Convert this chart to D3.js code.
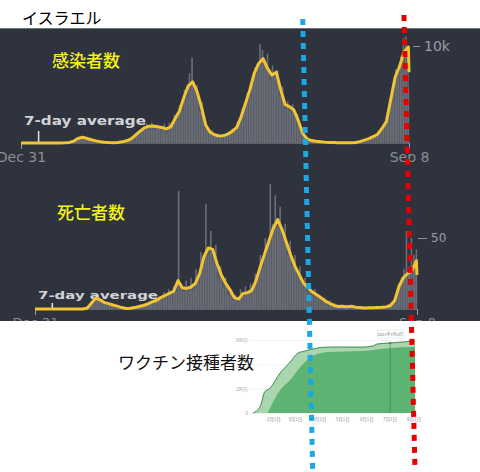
<!DOCTYPE html>
<html>
<head>
<meta charset="utf-8">
<script src="https://cdn.jsdelivr.net/npm/d3@7"></script>
<style>
body { margin: 0; background: #fff; }
svg { display: block; }
</style>
</head>
<body>
<div id="chart"></div>
<script>
// Israel: daily cases / deaths (Dec 31 2019 - Sep 8 2021) and vaccinations
const startDate = new Date(2019, 11, 31),
    endDate = new Date(2021, 8, 8);

// 7-day averages, one value per week from Dec 31, last one on Sep 8
const caseAvg = [
    0, 0, 0, 0, 0, 0, 0, 0, 0,
    2, 15, 60, 200, 480, 600, 460, 330, 220, 140, 80,
    40, 30, 60, 120, 230, 420, 800, 1200, 1550, 1720,
    1750, 1680, 1600, 1450, 1650, 2500, 3300, 4700, 5900, 6300,
    5300, 3700, 1800, 1100, 850, 720, 760, 920, 1200, 1600,
    2700, 4100, 5500, 7200, 8200, 8700, 7700, 7000, 7300, 5500,
    3950, 3750, 3400, 2300, 1000, 420, 250, 180, 140, 90,
    60, 40, 25, 20, 20, 25, 60, 140, 300, 450,
    650, 900, 1500, 2200, 4500, 6800, 7900, 9400, 9900, 7300
];
const deathAvg = [
    0, 0, 0, 0, 0, 0, 0, 0, 0, 0, 0, 0,
    0.5, 4, 7.5, 6.5, 4.5, 3.8, 2.8, 2,
    1, 0.3, 0.5, 1, 1.8, 2.5, 3.5, 5, 6, 8,
    9.5, 11, 12.5, 20, 15, 14.5, 15.5, 18, 25, 37,
    43, 42, 32, 24, 18, 13.5, 8, 7, 11, 11.5,
    13, 20, 30, 39, 48, 57, 63, 56, 47, 38,
    30, 24, 18, 15, 12, 10, 8, 5.5, 4, 2.5,
    1.8, 2, 1.5, 2, 1.2, 1, 0.7, 0.8, 0.8, 1,
    1.2, 1.5, 2.5, 6, 16, 22, 25, 27, 34, 24
];

// daily values, one bar every 4 days from Dec 31
const caseDaily = [
    0, 0, 0, 0, 0, 0, 0, 0, 0, 0, 0, 0, 0, 0, 0,
    0, 5, 10, 30, 50, 120, 250, 400, 650, 550,
    700, 420, 380, 260, 300, 180, 150, 100, 90, 40,
    50, 20, 40, 60, 80, 140, 150, 300, 280, 600,
    700, 1100, 950, 1500, 1300, 2000, 1600, 2100, 1400, 1900,
    1500, 1300, 2000, 1100, 2100, 1800, 2900, 2300, 3900, 3300,
    5500, 4600, 7200, 8800, 5400, 6000, 3200, 4200, 1500, 1800,
    900, 1300, 700, 900, 600, 950, 700, 1100, 900, 1500,
    1200, 2200, 2600, 3600, 3800, 5200, 4800, 6800, 7800, 8200,
    10200, 9600, 8300, 9200, 6400, 8000, 6800, 7500, 4800, 5800,
    3500, 4300, 3300, 4000, 2800, 3000, 1700, 1000, 700, 400,
    300, 260, 150, 200, 120, 100, 80, 60, 50, 40,
    30, 20, 25, 15, 30, 20, 30, 50, 80, 110,
    200, 250, 350, 500, 450, 800, 700, 1100, 1300, 1900,
    2100, 3000, 4600, 5800, 7600, 7200, 8900, 10800, 11000, 5800
];
const deathDaily = [
    0, 0, 0, 0, 0, 0, 0, 0, 0, 0, 0, 0, 0, 0, 0, 0, 0, 0, 0, 0, 0,
    1, 3, 5, 9, 10, 6, 7, 3, 5, 3,
    2, 3, 1, 2, 1, 0, 0, 1, 0, 1,
    2, 1, 3, 2, 4, 5, 4, 7, 5, 9,
    7, 12, 9, 14, 10, 16, 12, 83, 18, 12,
    20, 13, 22, 14, 28, 22, 40, 33, 74, 38,
    55, 35, 45, 22, 30, 15, 22, 10, 14, 6,
    10, 5, 14, 9, 16, 10, 18, 12, 25, 22,
    38, 30, 50, 45, 88, 60, 80, 58, 72, 50,
    60, 38, 48, 30, 38, 24, 30, 18, 22, 12,
    18, 9, 14, 8, 10, 5, 8, 3, 6, 2,
    4, 1, 3, 2, 1, 3, 1, 2, 0, 2,
    1, 0, 1, 0, 2, 0, 1, 1, 2, 0,
    2, 1, 3, 4, 7, 10, 18, 22, 28, 55,
    30, 50, 38, 42
];

// vaccinations (万人)
const dose1Dates = ["2021-01-06", "2021-01-15", "2021-01-21", "2021-01-28", "2021-02-10", "2021-02-23", "2021-03-05",
    "2021-03-14", "2021-03-30", "2021-04-15", "2021-05-28", "2021-06-10", "2021-06-15", "2021-07-02", "2021-08-03"];
const dose1 = [0, 49, 173, 205, 329, 419, 493, 509, 534, 542, 542, 551, 567, 575, 592];
const dose2Dates = ["2021-01-25", "2021-02-01", "2021-02-10", "2021-02-23", "2021-03-07", "2021-03-17", "2021-03-30",
    "2021-04-15", "2021-05-28", "2021-07-02", "2021-08-03"];
const dose2 = [0, 90, 189, 271, 370, 435, 485, 501, 509, 534, 542];
const vacTicks = [0, 200, 400, 600];
const vacTickLabels = ["0", "200万", "", "600万"];   // 400万 sits under the title
const vacMonths = ["2021-02-01", "2021-03-01", "2021-04-01", "2021-05-01", "2021-06-01", "2021-07-01", "2021-08-01"];
const tooltipDate = "2021-07-02";

// annotations
const noteDate = new Date(2020, 0, 28);
const blueLine = ["2021-03-23", "2021-03-24"],
    redLine = ["2021-08-31", "2021-08-03"];

const parse = d3.timeParse("%Y-%m-%d");
const avgDates = d3.timeDay.range(startDate, d3.timeDay.offset(endDate, 1), 7).concat([endDate]);
const barDates = d3.timeDay.range(startDate, d3.timeDay.offset(endDate, 1), 4);

const width = 480, height = 472;
const font = "'DejaVu Sans', Verdana, sans-serif";
const cjk = "'Noto Sans CJK JP', 'Noto Sans', sans-serif";

var svg = d3.select("#chart")
    .append("svg")
    .attr("width", width)
    .attr("height", height);

svg.append("rect").attr("width", width).attr("height", height).attr("fill", "#fff");

// dark screenshot panel
svg.append("rect")
    .attr("x", 0).attr("y", 28)
    .attr("width", width).attr("height", 293)
    .attr("fill", "#2f333d");
svg.append("line")
    .attr("x1", 0).attr("x2", width).attr("y1", 28.5).attr("y2", 28.5)
    .attr("stroke", "#70737b");

var caseX = d3.scaleTime().domain([startDate, endDate]).range([21, 409]);
var caseY = d3.scaleLinear().domain([0, 10000]).range([143, 46]);
var deathX = d3.scaleTime().domain([startDate, endDate]).range([35, 417]);
var deathY = d3.scaleLinear().domain([0, 50]).range([309, 238]);

function drawPanel(cfg) {
    var g = svg.append("g");

    // grey daily bars + filled area
    g.append("path")
        .datum(cfg.avg)
        .attr("fill", "#565a63")
        .attr("d", d3.area()
            .x(function(d, i) { return cfg.x(avgDates[i]); })
            .y0(cfg.y(0))
            .y1(function(d) { return cfg.y(d); }));

    g.selectAll("rect.bar")
        .data(cfg.daily)
        .enter()
        .append("rect")
        .attr("class", "bar")
        .attr("x", function(d, i) { return cfg.x(barDates[i]) - 0.8; })
        .attr("width", 1.6)
        .attr("y", function(d) { return cfg.y(d); })
        .attr("height", function(d) { return cfg.y(0) - cfg.y(d); })
        .attr("fill", "#6b6e77");

    // x axis
    var xa = g.append("g")
        .attr("transform", "translate(0," + cfg.y(0) + ")")
        .call(d3.axisBottom(cfg.x)
            .tickValues([startDate, endDate])
            .tickFormat(d3.timeFormat("%b %-d"))
            .tickSizeOuter(0)
            .tickSize(6)
            .tickPadding(3));
    xa.select(".domain").attr("stroke", "#5d6069");
    xa.selectAll(".tick line").attr("stroke", "#9a9da4");
    xa.selectAll(".tick text").attr("fill", "#8c8f97")
        .style("font-family", font).style("font-size", cfg.labelSize + "px");

    // right value tick
    var ya = g.append("g")
        .attr("transform", "translate(" + cfg.tickX + ",0)")
        .call(d3.axisRight(cfg.y)
            .tickValues([cfg.tick])
            .tickFormat(cfg.fmt)
            .tickSize(cfg.tickLen)
            .tickPadding(4));
    ya.select(".domain").remove();
    ya.selectAll(".tick line").attr("stroke", "#8c8f97");
    ya.selectAll(".tick text").attr("fill", "#9a9da5")
        .style("font-family", font).style("font-size", cfg.tickSize + "px");

    // 7-day average note
    g.append("text")
        .attr("x", cfg.noteX).attr("y", cfg.noteY)
        .attr("textLength", cfg.noteW)
        .attr("lengthAdjust", "spacingAndGlyphs")
        .attr("fill", "#d2d3d6")
        .style("font-family", font)
        .style("font-weight", "bold")
        .style("font-size", cfg.noteSize + "px")
        .text("7-day average");
    g.append("line")
        .attr("x1", cfg.x(noteDate)).attr("x2", cfg.x(noteDate))
        .attr("y1", cfg.y(0)).attr("y2", cfg.y(0) - cfg.noteLen)
        .attr("stroke", "#e6e6e6").attr("stroke-width", 1.5);

    // 7-day average line
    g.append("path")
        .datum(cfg.avg)
        .attr("fill", "none")
        .attr("stroke", "#f0c433")
        .attr("stroke-width", 3)
        .attr("stroke-linejoin", "round")
        .attr("d", d3.line()
            .x(function(d, i) { return cfg.x(avgDates[i]); })
            .y(function(d) { return cfg.y(d); }));

    g.append("text")
        .attr("x", cfg.titleX).attr("y", cfg.titleY)
        .attr("fill", "#f3f31f")
        .style("font-family", cjk)
        .style("font-size", "17px")
        .style("font-weight", 500)
        .text(cfg.title);
}

drawPanel({
    x: caseX, y: caseY, avg: caseAvg, daily: caseDaily,
    tick: 10000, fmt: function() { return "10k"; }, tickX: 413, tickLen: 7, tickSize: 14,
    labelSize: 14, noteX: 24, noteY: 125, noteW: 122, noteSize: 13, noteLen: 12,
    title: "感染者数", titleX: 52, titleY: 67
});
drawPanel({
    x: deathX, y: deathY, avg: deathAvg, daily: deathDaily,
    tick: 50, fmt: d3.format("d"), tickX: 418, tickLen: 9, tickSize: 12,
    labelSize: 13, noteX: 38, noteY: 299, noteW: 120, noteSize: 10, noteLen: 6,
    title: "死亡者数", titleX: 57, titleY: 219
});

// the screenshot is cut here
svg.append("rect")
    .attr("x", 0).attr("y", 321)
    .attr("width", width).attr("height", height - 321)
    .attr("fill", "#fff");

// vaccination chart
var vx = d3.scaleTime().domain([parse("2021-01-06"), parse("2021-08-03")]).range([253, 415]);
var vy = d3.scaleLinear().domain([0, 600]).range([413, 340]);
var vg = svg.append("g");

var vya = vg.append("g")
    .attr("transform", "translate(250,0)")
    .call(d3.axisLeft(vy)
        .tickValues(vacTicks)
        .tickFormat(function(d, i) { return vacTickLabels[i]; })
        .tickSize(-165)
        .tickPadding(2));
vya.select(".domain").remove();
vya.selectAll(".tick line").attr("stroke", "#e9e9e9").attr("stroke-width", 0.6);
vya.selectAll(".tick text").attr("fill", "#999").style("font-size", "4.5px").style("font-family", cjk);

var area1 = d3.area().curve(d3.curveMonotoneX)
    .x(function(d, i) { return vx(parse(dose1Dates[i])); })
    .y0(vy(0))
    .y1(function(d) { return vy(d); });
var area2 = d3.area().curve(d3.curveMonotoneX)
    .x(function(d, i) { return vx(parse(dose2Dates[i])); })
    .y0(vy(0))
    .y1(function(d) { return vy(d); });

vg.append("path").datum(dose1).attr("fill", "#a9d6ae").attr("d", area1);
vg.append("path").datum(dose2).attr("fill", "#5db371").attr("d", area2);
vg.append("path").datum(dose1)
    .attr("fill", "none").attr("stroke", "#3e8c51").attr("stroke-width", 1)
    .attr("d", area1.lineY1());

var vxa = vg.append("g")
    .attr("transform", "translate(0," + vy(0) + ")")
    .call(d3.axisBottom(vx)
        .tickValues(vacMonths.map(parse))
        .tickFormat(function(d) { return (d.getMonth() + 1) + "月1日"; })
        .tickSize(0)
        .tickPadding(5));
vxa.select(".domain").remove();
vxa.selectAll(".tick text").attr("fill", "#888").style("font-size", "4.5px").style("font-family", cjk);

// hover tooltip
var tipX = vx(parse(tooltipDate)),
    tipV = dose1[dose1Dates.indexOf(tooltipDate)];
vg.append("line")
    .attr("x1", tipX).attr("x2", tipX)
    .attr("y1", vy(tipV)).attr("y2", vy(0))
    .attr("stroke", "#3e7d4d").attr("stroke-width", 0.6);
vg.append("circle").attr("cx", tipX).attr("cy", vy(tipV)).attr("r", 1).attr("fill", "#3e7d4d");
vg.append("rect")
    .attr("x", tipX - 13).attr("y", 330)
    .attr("width", 26).attr("height", 8)
    .attr("fill", "#fff").attr("stroke", "#d8d8d8").attr("stroke-width", 0.5);
vg.append("text")
    .attr("x", tipX).attr("y", 335.6)
    .attr("text-anchor", "middle")
    .attr("fill", "#777")
    .style("font-size", "4px").style("font-family", cjk)
    .text(d3.timeFormat("%Y年%-m月%-d日")(parse(tooltipDate)));

// label for the vaccination chart
svg.append("text")
    .attr("x", 118).attr("y", 369)
    .attr("fill", "#111")
    .style("font-family", cjk)
    .style("font-size", "17px")
    .text("ワクチン接種者数");

// title
svg.append("text")
    .attr("x", 22).attr("y", 24)
    .attr("fill", "#000")
    .style("font-family", cjk)
    .style("font-size", "16px")
    .text("イスラエル");

// dotted marker lines
svg.append("line")
    .attr("x1", caseX(parse(blueLine[0]))).attr("y1", 19)
    .attr("x2", vx(parse(blueLine[1]))).attr("y2", 470)
    .attr("stroke", "#1ca8e2").attr("stroke-width", 5)
    .attr("stroke-dasharray", "6,6");
svg.append("line")
    .attr("x1", caseX(parse(redLine[0]))).attr("y1", 15)
    .attr("x2", vx(parse(redLine[1]))).attr("y2", 470)
    .attr("stroke", "#e80000").attr("stroke-width", 5)
    .attr("stroke-dasharray", "6,6");
</script>
</body>
</html>
